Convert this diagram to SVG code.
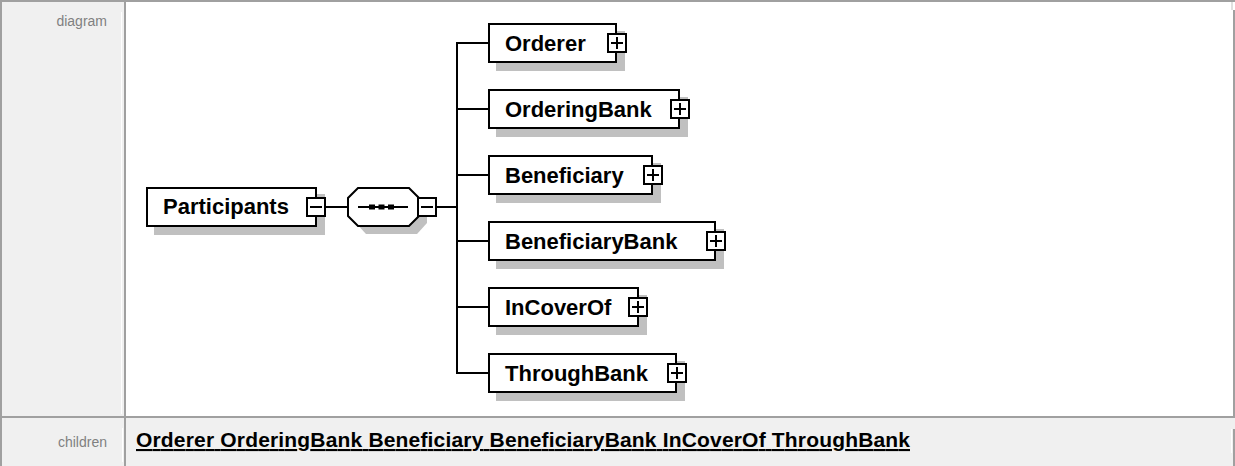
<svg xmlns="http://www.w3.org/2000/svg" width="1235" height="466" viewBox="0 0 1235 466">
<style>
.lbl{font-family:"Liberation Sans",Arial,sans-serif;font-size:14px;fill:#808080}
.nt{font-family:"Liberation Sans",Arial,sans-serif;font-size:22px;font-weight:bold;fill:#000}
.box{fill:#fff;stroke:#000;stroke-width:2}
.sh{fill:#c0c0c0}
.ic{fill:#fff;stroke:#000;stroke-width:2}
.pl{stroke:#000;stroke-width:2;fill:none}
.con{stroke:#000;stroke-width:2;fill:none}
.lnk{font-family:"Liberation Sans",Arial,sans-serif;font-size:21px;font-weight:bold;fill:#000;text-decoration:underline}
.bd{fill:#a0a0a0}
</style>
<rect x="0" y="0" width="1235" height="466" fill="#fff"/>
<!-- table -->
<rect x="0" y="0" width="124" height="416" fill="#f0f0f0"/>
<rect x="0" y="418" width="1235" height="48" fill="#f0f0f0"/>
<rect class="bd" x="0" y="0" width="1235" height="2"/>
<rect class="bd" x="0" y="0" width="2" height="466"/>
<rect class="bd" x="124" y="0" width="2" height="466"/>
<rect class="bd" x="0" y="416" width="1235" height="2"/>
<rect class="bd" x="1233" y="10" width="2" height="408"/>
<rect x="1231" y="2" width="2" height="8" fill="#e0e0e0"/>
<rect x="121" y="12" width="1" height="402" fill="#fff"/>
<rect x="122" y="428" width="1" height="34" fill="#fff"/>
<rect x="1231" y="429" width="1" height="24" fill="#fff"/>
<rect class="bd" x="1233" y="429" width="2" height="37"/>
<text class="lbl" x="107" y="26" text-anchor="end">diagram</text>
<text class="lbl" x="107" y="447" text-anchor="end">children</text>
<text class="lnk" x="136" y="447" textLength="774">Orderer OrderingBank Beneficiary BeneficiaryBank InCoverOf ThroughBank</text>

<!-- connectors -->
<g id="connectors">
<line class="con" x1="326" y1="207" x2="348" y2="207"/>
<line class="con" x1="437" y1="207" x2="457" y2="207"/>
<line class="con" x1="457" y1="42" x2="457" y2="374"/>
<line class="con" x1="457" y1="43" x2="489" y2="43"/>
<line class="con" x1="457" y1="109" x2="489" y2="109"/>
<line class="con" x1="457" y1="175" x2="489" y2="175"/>
<line class="con" x1="457" y1="241" x2="489" y2="241"/>
<line class="con" x1="457" y1="307" x2="489" y2="307"/>
<line class="con" x1="457" y1="373" x2="489" y2="373"/>
</g>

<!-- Participants -->
<g id="participants">
<rect class="sh" x="154" y="194" width="171" height="41"/>
<rect class="box" x="147" y="188" width="169" height="38"/>
<text class="nt" x="163" y="214">Participants</text>
<rect class="ic" x="307" y="198" width="18" height="18"/>
<line class="pl" x1="310" y1="207" x2="322" y2="207"/>
</g>

<!-- sequence -->
<g id="sequence">
<polygon class="sh" points="366,195 417,195 427,205 427,223 417,234 366,234 356,223 356,205"/>
<polygon class="box" points="358,188 409,188 419,198 419,216 409,226 358,226 348,216 348,198"/>
<line class="con" x1="358" y1="207" x2="408" y2="207"/>
<rect x="369" y="204.5" width="6" height="5"/>
<rect x="378.5" y="204.5" width="6" height="5"/>
<rect x="388" y="204.5" width="6" height="5"/>
<rect class="ic" x="418" y="198" width="18" height="18"/>
<line class="pl" x1="421" y1="207" x2="433" y2="207"/>
</g>

<!-- children -->
<g id="orderer">
<rect class="sh" x="496" y="31" width="129" height="40"/>
<rect class="box" x="489" y="24" width="127" height="38"/>
<text class="nt" x="505" y="51">Orderer</text>
<rect class="ic" x="608" y="34" width="18" height="18"/>
<line class="pl" x1="611" y1="43" x2="623" y2="43"/><line class="pl" x1="617" y1="37" x2="617" y2="49"/>
</g>
<g id="orderingbank">
<rect class="sh" x="496" y="97" width="192" height="40"/>
<rect class="box" x="489" y="90" width="190" height="38"/>
<text class="nt" x="505" y="117">OrderingBank</text>
<rect class="ic" x="671" y="100" width="18" height="18"/>
<line class="pl" x1="674" y1="109" x2="686" y2="109"/><line class="pl" x1="680" y1="103" x2="680" y2="115"/>
</g>
<g id="beneficiary">
<rect class="sh" x="496" y="163" width="165" height="40"/>
<rect class="box" x="489" y="156" width="163" height="38"/>
<text class="nt" x="505" y="183">Beneficiary</text>
<rect class="ic" x="644" y="166" width="18" height="18"/>
<line class="pl" x1="647" y1="175" x2="659" y2="175"/><line class="pl" x1="653" y1="169" x2="653" y2="181"/>
</g>
<g id="beneficiarybank">
<rect class="sh" x="496" y="229" width="228" height="40"/>
<rect class="box" x="489" y="222" width="226" height="38"/>
<text class="nt" x="505" y="249">BeneficiaryBank</text>
<rect class="ic" x="707" y="232" width="18" height="18"/>
<line class="pl" x1="710" y1="241" x2="722" y2="241"/><line class="pl" x1="716" y1="235" x2="716" y2="247"/>
</g>
<g id="incoverof">
<rect class="sh" x="496" y="295" width="151" height="40"/>
<rect class="box" x="489" y="288" width="149" height="38"/>
<text class="nt" x="505" y="315">InCoverOf</text>
<rect class="ic" x="629" y="298" width="18" height="18"/>
<line class="pl" x1="632" y1="307" x2="644" y2="307"/><line class="pl" x1="638" y1="301" x2="638" y2="313"/>
</g>
<g id="throughbank">
<rect class="sh" x="496" y="361" width="189" height="40"/>
<rect class="box" x="489" y="354" width="187" height="38"/>
<text class="nt" x="505" y="381">ThroughBank</text>
<rect class="ic" x="668" y="364" width="18" height="18"/>
<line class="pl" x1="677" y1="367" x2="677" y2="379"/><line class="pl" x1="671" y1="373" x2="683" y2="373"/>
</g>
</svg>
